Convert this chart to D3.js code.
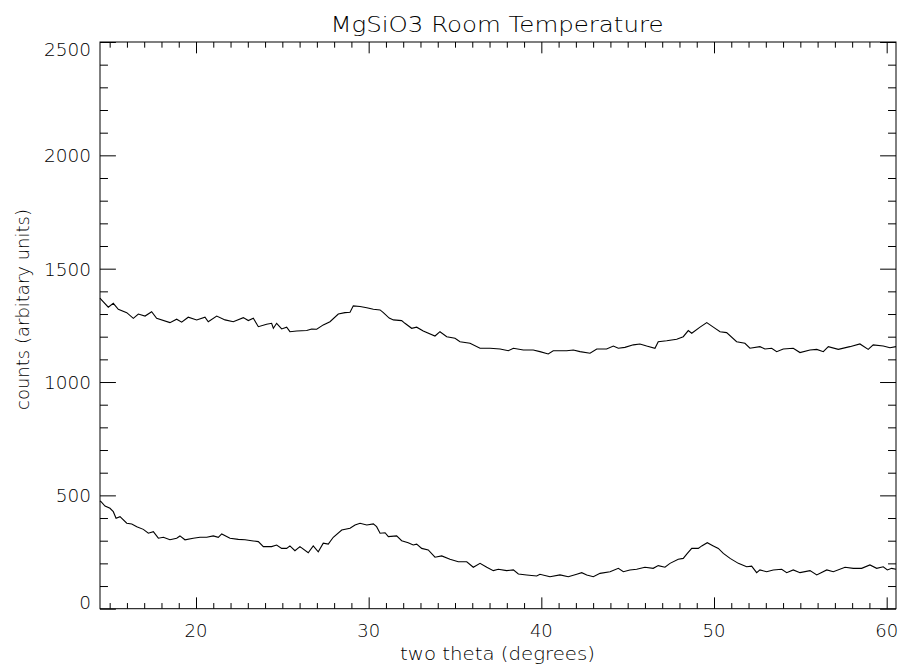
<!DOCTYPE html>
<html>
<head>
<meta charset="utf-8">
<script src="https://cdn.jsdelivr.net/npm/d3@7"></script>
<style>
  html, body { margin: 0; padding: 0; background: #fff; }
  svg text { font-family: "DejaVu Sans", "Liberation Sans", sans-serif; font-weight: 200; fill: #000; }
</style>
</head>
<body>
<svg id="chart" width="901" height="666"></svg>
<script>
// MgSiO3 diffraction pattern at room temperature: two scans, counts vs two theta
const chartTitle = "MgSiO3 Room Temperature";
const xTitle = "two theta (degrees)";
const yTitle = "counts (arbitary units)";

const xMajorTicks = [20, 30, 40, 50, 60];
const xMinorTicks = d3.range(15, 61, 1);
const yMajorTicks = [0, 500, 1000, 1500, 2000, 2500];
const yMinorTicks = d3.range(0, 2501, 100);

// upper scan
const upperTheta = [14.44, 14.50, 14.92, 15.21, 15.50, 15.99, 16.37, 16.66, 17.05, 17.43, 17.72, 18.49, 18.88, 19.17, 19.55,
  20.04, 20.52, 20.71, 21.20, 21.68, 22.16, 22.74, 23.03, 23.32, 23.61, 24.09, 24.38, 24.48, 24.67, 24.96, 25.25, 25.44,
  25.83, 26.41, 26.70, 26.99, 27.37, 27.76, 28.24, 28.63, 28.92, 29.11, 29.50, 29.89, 30.27, 30.66, 30.85, 31.19, 31.43,
  31.91, 32.10, 32.49, 32.78, 33.16, 33.84, 34.13, 34.52, 35.00, 35.29, 35.87, 36.45, 37.03, 37.61, 38.09, 38.38, 38.96,
  39.53, 39.92, 40.40, 40.69, 41.47, 41.85, 42.24, 42.82, 43.21, 43.78, 44.17, 44.46, 44.84, 45.33, 45.71, 46.10, 46.58,
  46.77, 47.26, 47.84, 48.22, 48.51, 48.71, 49.19, 49.58, 49.96, 50.35, 50.73, 51.31, 51.79, 52.08, 52.66, 52.95, 53.34,
  53.63, 54.01, 54.59, 54.98, 55.56, 55.95, 56.33, 56.62, 57.20, 57.87, 58.45, 58.93, 59.22, 59.80, 60.19, 60.54];
const upperCounts = [1370, 1365, 1330, 1347, 1321, 1306, 1281, 1300, 1291, 1310, 1281, 1262, 1277, 1264, 1286,
  1274, 1286, 1266, 1291, 1274, 1266, 1284, 1271, 1281, 1244, 1255, 1259, 1237, 1259, 1234, 1242, 1222,
  1225, 1227, 1234, 1233, 1252, 1266, 1300, 1306, 1308, 1336, 1333, 1328, 1321, 1318, 1306, 1282, 1274,
  1271, 1259, 1237, 1242, 1225, 1203, 1222, 1200, 1193, 1178, 1171, 1149, 1149, 1146, 1138, 1149, 1141,
  1141, 1134, 1124, 1138, 1138, 1141, 1134, 1127, 1146, 1146, 1159, 1149, 1153, 1164, 1168, 1159, 1149,
  1178, 1182, 1189, 1200, 1227, 1215, 1242, 1262, 1242, 1222, 1218, 1178, 1171, 1149, 1156, 1146, 1149,
  1134, 1146, 1149, 1130, 1141, 1144, 1134, 1156, 1144, 1156, 1168, 1144, 1164, 1159, 1151, 1156];

// lower scan
const lowerTheta = [14.44, 14.50, 14.73, 15.02, 15.21, 15.37, 15.60, 15.99, 16.28, 16.57, 16.95, 17.24, 17.53, 17.82, 18.11,
  18.49, 18.88, 19.07, 19.36, 19.84, 20.23, 20.62, 21.00, 21.29, 21.49, 21.97, 22.45, 22.84, 23.32, 23.61, 23.90, 24.38,
  24.67, 24.96, 25.25, 25.44, 25.73, 26.02, 26.50, 26.79, 27.08, 27.37, 27.66, 27.95, 28.44, 28.92, 29.21, 29.50, 29.89,
  30.27, 30.46, 30.66, 30.95, 31.14, 31.62, 31.91, 32.29, 32.58, 32.78, 33.07, 33.45, 33.84, 34.23, 34.71, 35.19, 35.68,
  36.06, 36.45, 36.84, 37.22, 37.51, 37.99, 38.38, 38.67, 39.15, 39.73, 39.92, 40.50, 41.08, 41.56, 42.05, 42.34, 42.63,
  43.01, 43.40, 43.98, 44.46, 44.75, 45.13, 45.52, 46.00, 46.48, 46.77, 47.16, 47.45, 47.93, 48.22, 48.42, 48.71, 49.09,
  49.29, 49.61, 49.96, 50.25, 50.54, 50.93, 51.41, 51.89, 52.18, 52.47, 52.66, 53.05, 53.43, 53.92, 54.21, 54.59, 54.98,
  55.56, 55.95, 56.53, 56.91, 57.59, 58.07, 58.55, 59.03, 59.42, 59.80, 60.04, 60.29, 60.54];
const lowerCounts = [475, 472, 453, 443, 428, 399, 406, 377, 374, 362, 350, 333, 340, 311, 315,
  304, 311, 321, 304, 311, 315, 315, 321, 315, 330, 311, 306, 304, 299, 296, 274, 274,
  281, 266, 266, 277, 256, 274, 247, 277, 251, 289, 285, 315, 347, 355, 369, 377, 369,
  374, 362, 333, 335, 318, 321, 300, 291, 281, 285, 266, 259, 227, 233, 218, 207, 207,
  183, 200, 183, 168, 174, 168, 171, 153, 149, 144, 152, 141, 149, 141, 152, 159, 149,
  141, 156, 163, 178, 163, 171, 174, 183, 178, 190, 183, 200, 218, 222, 241, 266, 266,
  277, 291, 277, 266, 244, 222, 200, 185, 188, 159, 171, 163, 171, 174, 159, 171, 159,
  168, 149, 171, 163, 183, 178, 178, 193, 178, 185, 171, 178, 174];

const svg = d3.select("#chart");
const plot = { left: 100, right: 896, top: 42, bottom: 608.7 };

const x = d3.scaleLinear().domain([14.44, 60.54]).range([plot.left, plot.right]);
const y = d3.scaleLinear().domain([0, 2500]).range([plot.bottom, plot.top]);

const pw = plot.right - plot.left, ph = plot.bottom - plot.top;
const xMajorLen = 0.02 * ph, yMajorLen = 0.02 * pw;

// frame
svg.append("rect")
  .attr("x", plot.left).attr("y", plot.top)
  .attr("width", pw).attr("height", ph)
  .attr("fill", "none").attr("stroke", "#000").attr("stroke-width", 1);

function tickAxis(gen, scale, values, len, tx, ty) {
  const g = svg.append("g").attr("transform", `translate(${tx},${ty})`)
    .call(gen(scale).tickValues(values).tickSize(-len).tickFormat(""));
  g.select(".domain").remove();
  g.selectAll(".tick line").attr("stroke", "#000").attr("stroke-width", 1);
  return g;
}

// bottom / top ticks
tickAxis(d3.axisBottom, x, xMajorTicks, xMajorLen, 0, plot.bottom);
tickAxis(d3.axisBottom, x, xMinorTicks.filter(v => !xMajorTicks.includes(v)), xMajorLen / 2, 0, plot.bottom);
tickAxis(d3.axisTop, x, xMajorTicks, xMajorLen, 0, plot.top);
tickAxis(d3.axisTop, x, xMinorTicks.filter(v => !xMajorTicks.includes(v)), xMajorLen / 2, 0, plot.top);
// left / right ticks
tickAxis(d3.axisLeft, y, yMajorTicks, yMajorLen, plot.left, 0);
tickAxis(d3.axisLeft, y, yMinorTicks.filter(v => !yMajorTicks.includes(v)), yMajorLen / 2, plot.left, 0);
tickAxis(d3.axisRight, y, yMajorTicks, yMajorLen, plot.right, 0);
tickAxis(d3.axisRight, y, yMinorTicks.filter(v => !yMajorTicks.includes(v)), yMajorLen / 2, plot.right, 0);

// x tick labels
svg.append("g").selectAll("text").data(xMajorTicks).join("text")
  .attr("x", d => x(d)).attr("y", 637)
  .attr("text-anchor", "middle")
  .attr("font-size", 18)
  .text(d => d);

// y tick labels
svg.append("g").selectAll("text").data(yMajorTicks).join("text")
  .attr("x", 91)
  .attr("y", (d, i) => i === 0 ? y(d) : (i === yMajorTicks.length - 1 ? y(d) + 14 : y(d) + 7))
  .attr("text-anchor", "end")
  .attr("font-size", 18.5)
  .text(d => d);

// titles
svg.append("text")
  .attr("x", (plot.left + plot.right) / 2 - 1).attr("y", 31.5)
  .attr("text-anchor", "middle")
  .attr("font-size", 20.5)
  .attr("textLength", 333).attr("lengthAdjust", "spacingAndGlyphs")
  .text(chartTitle);

svg.append("text")
  .attr("x", 497.5).attr("y", 659.5)
  .attr("text-anchor", "middle")
  .attr("font-size", 17)
  .attr("textLength", 195).attr("lengthAdjust", "spacingAndGlyphs")
  .text(xTitle);

svg.append("text")
  .attr("transform", "translate(28.5,309.5) rotate(-90)")
  .attr("text-anchor", "middle")
  .attr("font-size", 17)
  .attr("textLength", 201).attr("lengthAdjust", "spacingAndGlyphs")
  .text(yTitle);

// data lines
const line = d3.line().x(d => x(d[0])).y(d => y(d[1]));
const series = [
  d3.zip(upperTheta, upperCounts),
  d3.zip(lowerTheta, lowerCounts)
];
svg.append("g").selectAll("path").data(series).join("path")
  .attr("d", line)
  .attr("fill", "none")
  .attr("stroke", "#000")
  .attr("stroke-width", 1.1)
  .attr("stroke-linejoin", "miter");
</script>
</body>
</html>
